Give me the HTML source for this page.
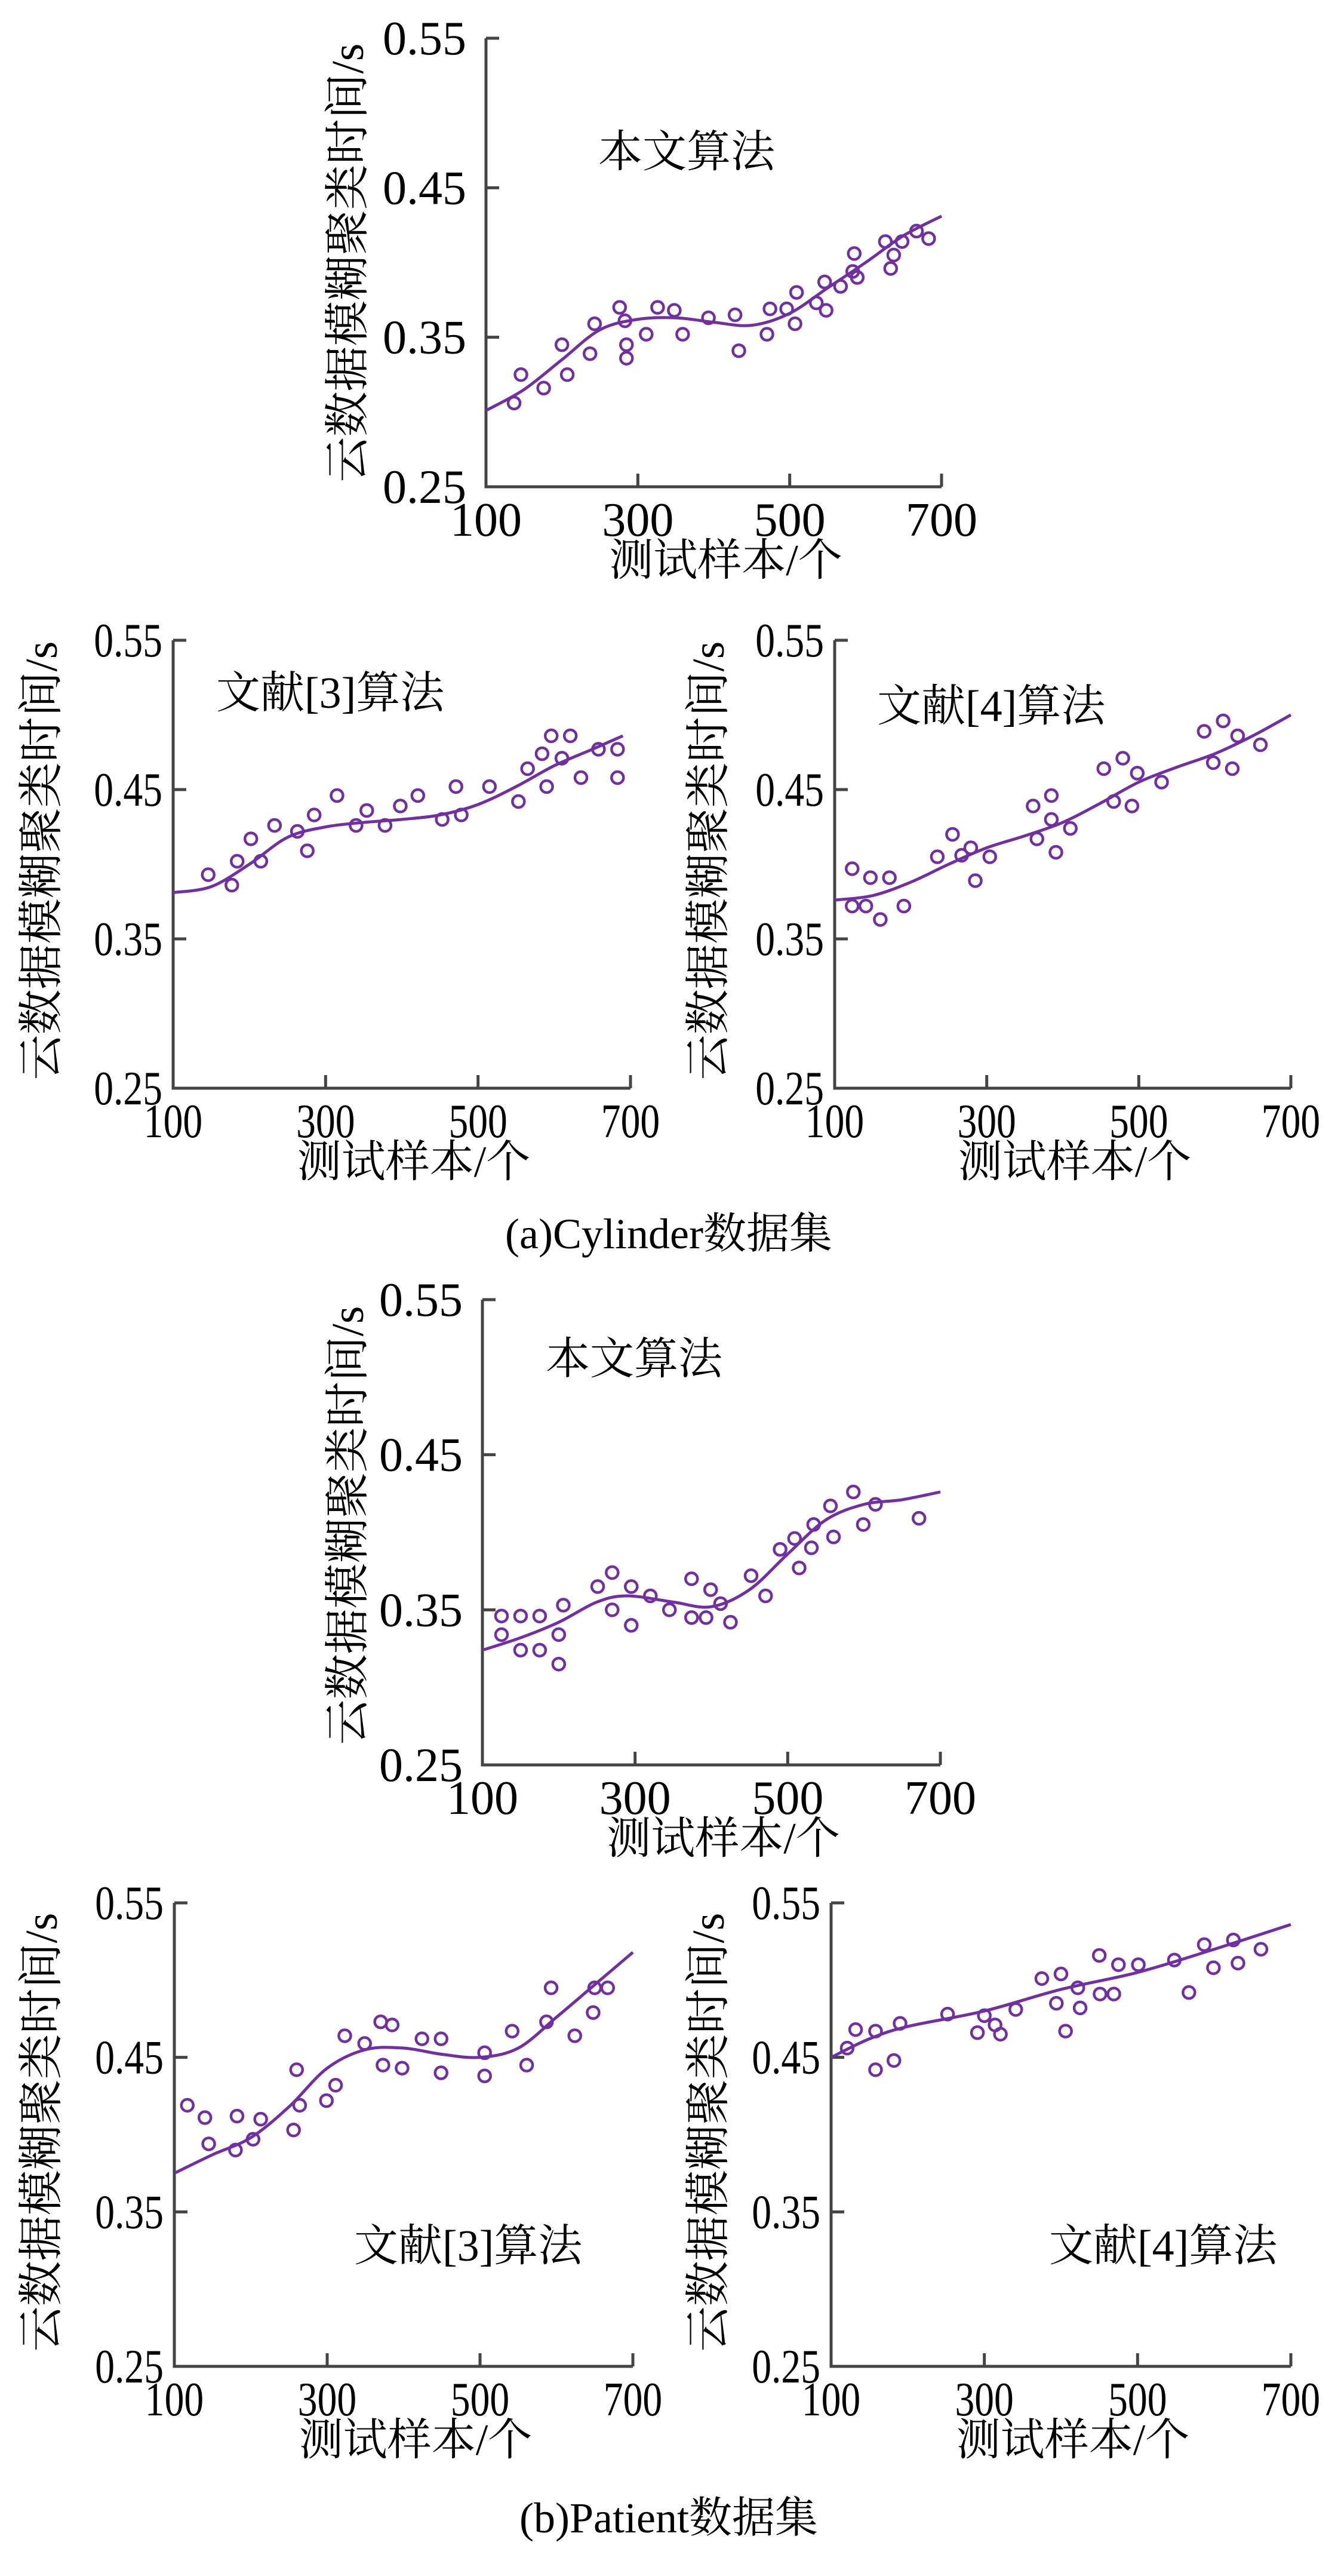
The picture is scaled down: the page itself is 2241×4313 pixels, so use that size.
<!DOCTYPE html>
<html><head><meta charset="utf-8">
<style>
html,body{margin:0;padding:0;background:#fff;}
svg{display:block;}
text{font-family:"Liberation Serif","Noto Serif CJK SC","Noto Sans CJK SC",serif;fill:#000;}
</style></head>
<body>
<svg id="fig" xmlns="http://www.w3.org/2000/svg" width="2241" height="4313" viewBox="0 0 2241 4313">
<text x="1120" y="2090" text-anchor="middle" font-size="72">(a)Cylinder数据集</text>
<text x="1120" y="4240" text-anchor="middle" font-size="72">(b)Patient数据集</text>
</svg>
<script>
const xTicks=[100,300,500,700];
const yTicks=[0.25,0.35,0.45,0.55];
const yTickLabels=["0.25","0.35","0.45","0.55"];
const xTickLabels=["100","300","500","700"];

const c1X=[137,146,176,200,207,237,243,276,283,285,285,311,326,348,359,393,428,433,474,470,496,507,509,535,546,548,567,583,585,589,626,633,637,648,667,683];
const c1Y=[0.306,0.325,0.316,0.345,0.325,0.339,0.359,0.370,0.361,0.345,0.336,0.352,0.370,0.368,0.352,0.363,0.365,0.341,0.369,0.352,0.369,0.359,0.380,0.373,0.387,0.368,0.384,0.394,0.406,0.390,0.414,0.396,0.405,0.414,0.421,0.416];
const c1CurveX=[100,150,200,250,300,350,400,450,500,550,600,650,700];
const c1CurveY=[0.301,0.315,0.335,0.355,0.362,0.363,0.360,0.358,0.366,0.383,0.400,0.418,0.431];

const c2X=[146,177,184,202,215,233,263,276,285,315,340,354,378,398,421,453,471,478,515,553,565,584,590,596,610,621,635,658,683,683];
const c2Y=[0.393,0.386,0.402,0.417,0.402,0.426,0.422,0.409,0.433,0.446,0.426,0.436,0.426,0.439,0.446,0.430,0.452,0.433,0.452,0.442,0.464,0.474,0.452,0.486,0.471,0.486,0.458,0.477,0.477,0.458];
const c2CurveX=[100,150,200,250,300,350,400,450,500,550,600,650,690];
const c2CurveY=[0.381,0.385,0.400,0.418,0.425,0.428,0.430,0.433,0.440,0.452,0.466,0.477,0.486];

const c3X=[123,123,141,147,160,172,191,235,255,267,279,285,304,361,366,385,385,391,410,454,467,479,491,498,530,586,598,611,623,630,660];
const c3Y=[0.397,0.372,0.372,0.391,0.363,0.391,0.372,0.405,0.420,0.406,0.411,0.389,0.405,0.439,0.417,0.446,0.430,0.408,0.424,0.464,0.442,0.471,0.439,0.461,0.455,0.489,0.468,0.496,0.464,0.486,0.480];
const c3CurveX=[100,150,200,250,300,350,400,450,500,550,600,650,700];
const c3CurveY=[0.376,0.379,0.388,0.400,0.411,0.419,0.428,0.441,0.455,0.465,0.474,0.486,0.500];

const c4X=[125,125,150,150,175,175,200,200,206,251,270,270,295,295,320,345,374,374,393,399,412,425,452,471,490,509,515,531,534,556,560,586,599,615,672];
const c4Y=[0.346,0.334,0.346,0.324,0.346,0.324,0.334,0.315,0.353,0.365,0.374,0.350,0.365,0.340,0.359,0.350,0.370,0.345,0.345,0.363,0.354,0.342,0.372,0.359,0.389,0.396,0.377,0.390,0.405,0.417,0.397,0.426,0.405,0.418,0.409];
const c4CurveX=[100,150,200,250,290,350,400,450,500,550,600,650,700];
const c4CurveY=[0.324,0.332,0.342,0.355,0.359,0.355,0.352,0.363,0.386,0.408,0.418,0.421,0.426];

const c5X=[117,140,145,182,180,203,213,256,260,264,299,311,323,349,370,373,385,398,424,449,449,506,506,542,561,587,593,624,648,650,667];
const c5Y=[0.419,0.411,0.394,0.412,0.390,0.397,0.410,0.403,0.442,0.419,0.422,0.432,0.464,0.459,0.473,0.445,0.471,0.443,0.462,0.462,0.440,0.453,0.438,0.467,0.445,0.473,0.495,0.464,0.479,0.495,0.495];
const c5CurveX=[100,150,200,250,300,350,400,450,500,550,600,650,700];
const c5CurveY=[0.375,0.387,0.398,0.418,0.443,0.455,0.456,0.452,0.450,0.456,0.476,0.497,0.518];

const c6X=[121,132,158,158,182,190,252,291,300,314,321,341,375,394,400,406,422,425,450,451,469,475,501,548,567,587,599,625,631,661];
const c6Y=[0.456,0.468,0.467,0.442,0.448,0.472,0.478,0.466,0.477,0.471,0.465,0.481,0.501,0.485,0.504,0.467,0.495,0.482,0.516,0.491,0.491,0.510,0.510,0.513,0.492,0.523,0.508,0.526,0.511,0.520];
const c6CurveX=[100,150,200,300,400,500,600,700];
const c6CurveY=[0.450,0.462,0.470,0.480,0.494,0.505,0.520,0.536];

const NS="http://www.w3.org/2000/svg";
const svg=document.getElementById('fig');
const AX="#444", PUR="#7030a0";
function mk(tag,attrs,parent){const e=document.createElementNS(NS,tag);for(const k in attrs)e.setAttribute(k,attrs[k]);(parent||svg).appendChild(e);return e;}

function chart(id,L,R,T,B,ttlX,ttlY,label,lx,ly,tickGap,narrow,px,py,cx,cy){
  const g=mk('g',{});
  
  
  const sx=v=>L+(v-100)/600*(R-L);
  const sy=v=>B-(v-0.25)/0.3*(B-T);
  const ax=mk('path',{d:`M${L},${T} V${B} H${R}`,fill:'none',stroke:AX,'stroke-width':5},g);
  
  
  const sc=narrow?0.82:1;
  yTicks.forEach((v,i)=>{
    const y=sy(v);
    if(i>0){const t=mk('line',{x1:L,x2:L+22,y1:y,y2:y,stroke:AX,'stroke-width':5},g);
    
    }
    const tx=mk('text',{x:0,y:0,'text-anchor':'end','font-size':80,transform:`translate(${L-tickGap},${y+27}) scale(${sc},1)`},g);
    tx.textContent=yTickLabels[i];
    
    
  });
  xTicks.forEach((v,i)=>{
    const x=sx(v);
    if(i>0){const t=mk('line',{x1:x,x2:x,y1:B,y2:B-22,stroke:AX,'stroke-width':5},g);
    
    }
    const tx=mk('text',{x:0,y:0,'text-anchor':'middle','font-size':80,transform:`translate(${x},${B+82}) scale(${sc},1)`},g);
    tx.textContent=xTickLabels[i];
    
    
  });
  const xt=mk('text',{x:(L+R)/2+20,y:B+148,'text-anchor':'middle','font-size':74},g);
  xt.textContent='测试样本/个';
  
  
  const yt=mk('text',{x:0,y:0,'text-anchor':'middle','font-size':76,transform:`translate(${ttlX+26},${ttlY}) rotate(-90)`},g);
  yt.textContent='云数据模糊聚类时间/s';
  
  
  const lb=mk('text',{x:lx,y:ly+26,'font-size':74},g);
  lb.textContent=label;
  
  
  const P=cx.map((v,i)=>[sx(v),sy(cy[i])]);
  let d=`M${P[0][0]},${P[0][1]}`;
  for(let i=0;i<P.length-1;i++){
    const p0=P[Math.max(0,i-1)],p1=P[i],p2=P[i+1],p3=P[Math.min(P.length-1,i+2)];
    d+=` C${p1[0]+(p2[0]-p0[0])/6},${p1[1]+(p2[1]-p0[1])/6} ${p2[0]-(p3[0]-p1[0])/6},${p2[1]-(p3[1]-p1[1])/6} ${p2[0]},${p2[1]}`;
  }
  const cv=mk('path',{d:d,fill:'none',stroke:PUR,'stroke-width':5},g);
  
  
  px.forEach((v,i)=>{
    const c=mk('circle',{cx:sx(v),cy:sy(py[i]),r:10,fill:'none',stroke:PUR,'stroke-width':4.5},g);
    
    
  });
}
chart('chart-cylinder-proposed',814,1577,64,815,582,440,'本文算法',1002,253,33,false,c1X,c1Y,c1CurveX,c1CurveY);
chart('chart-cylinder-ref3',290,1056,1072,1822,69,1441,'文献[3]算法',362,1159,18,true,c2X,c2Y,c2CurveX,c2CurveY);
chart('chart-cylinder-ref4',1398,2162,1072,1822,1186,1441,'文献[4]算法',1469,1181,18,true,c3X,c3Y,c3CurveX,c3CurveY);
chart('chart-patient-proposed',808,1575,2176,2955,582,2554,'本文算法',914,2274,33,false,c4X,c4Y,c4CurveX,c4CurveY);
chart('chart-patient-ref3',292,1060,3186,3962,69,3570,'文献[3]算法',593,3759,18,true,c5X,c5Y,c5CurveX,c5CurveY);
chart('chart-patient-ref4',1392,2162,3186,3962,1186,3570,'文献[4]算法',1757,3759,18,true,c6X,c6Y,c6CurveX,c6CurveY);
</script>
</body></html>
